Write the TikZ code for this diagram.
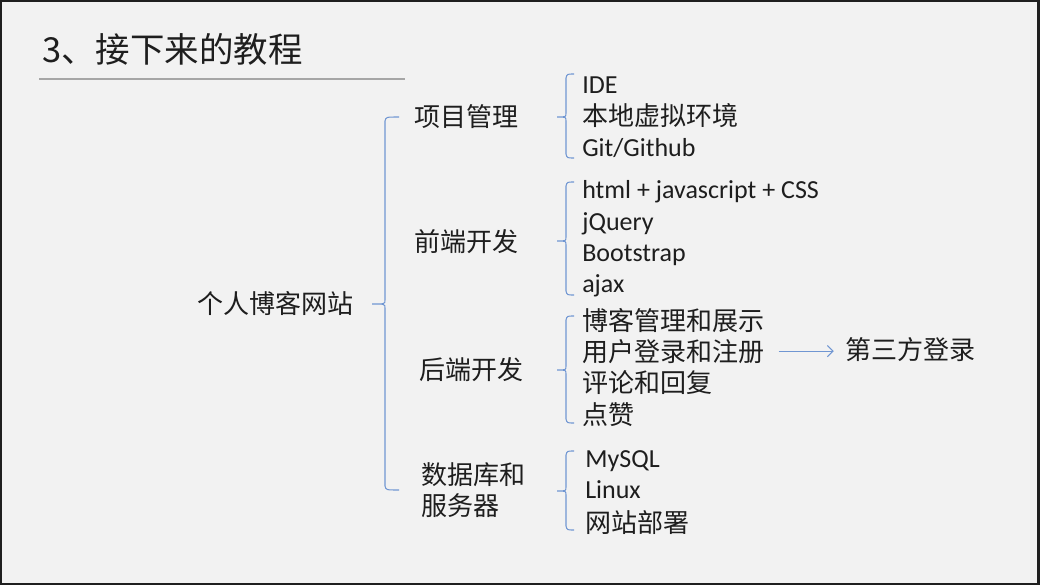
\documentclass[tikz,border=0pt]{standalone}
\usepackage{fontspec}
\setmainfont{Carlito}
\newfontfamily\cjk{Noto Sans CJK SC}
\usetikzlibrary{arrows.meta}
\definecolor{bg}{HTML}{F2F2F2}
\definecolor{brc}{RGB}{112,150,210}
\definecolor{txt}{HTML}{1E1E1E}
\definecolor{rulegray}{HTML}{A6A6A6}
\tikzset{
  bracestyle/.style={draw=brc, line width=0.75pt},
  lbl/.style={anchor=base west, inner sep=0pt, text=txt, font=\fontsize{18.5pt}{22pt}\selectfont},
  ttl/.style={anchor=base west, inner sep=0pt, text=txt, font=\fontsize{24.5pt}{28pt}\selectfont\cjk},
  arr/.style={draw=brc, line width=0.75pt, -{Straight Barb[length=4pt,width=8pt]}}
}
% #1 x of line, #2 x of ends, #3 x of tip, #4 y top, #5 y mid, #6 y bottom
\newcommand\bracepath[6]{%
  \draw[bracestyle] (#2,#4) .. controls (#1+1,#4) .. (#1,#4+4) -- (#1,#5-4)
    .. controls (#1,#5) .. (#3,#5) .. controls (#1,#5) .. (#1,#5+4)
    -- (#1,#6-4) .. controls (#1+1,#6) .. (#2,#6);}
\begin{document}
\begin{tikzpicture}[x=0.025cm, y=-0.025cm]
\useasboundingbox (0,0) rectangle (1040,585);
\fill[black!88] (0,0) rectangle (1040,585);
\fill[bg] (2,2) rectangle (1037,583);

% title
\node[ttl] (title) at (42,62) {3、接下来的教程};
\draw[rulegray, line width=2.1pt] (39,79) -- (405,79);

% root and categories
\node[lbl] (root) at (197,313.5) {\cjk 个人博客网站};
\node[lbl] (c1) at (414,126) {\cjk 项目管理};
\node[lbl] (c2) at (414,251) {\cjk 前端开发};
\node[lbl] (c3) at (419,379) {\cjk 后端开发};
\node[lbl] (c4) at (421,484) {\cjk 数据库和};
\node[lbl] (c4b) at (421,515) {\cjk 服务器};

% items
\node[lbl] (i11) at (582,93) {IDE};
\node[lbl] (i12) at (582,125) {\cjk 本地虚拟环境};
\node[lbl] (i13) at (582,156) {Git/Github};
\node[lbl] (i21) at (582,198) {html + javascript + CSS};
\node[lbl] (i22) at (582,230) {jQuery};
\node[lbl] (i23) at (582,261) {Bootstrap};
\node[lbl] (i24) at (582,292) {ajax};
\node[lbl] (i31) at (582,330) {\cjk 博客管理和展示};
\node[lbl] (i32) at (582,361) {\cjk 用户登录和注册};
\node[lbl] (i33) at (582,392) {\cjk 评论和回复};
\node[lbl] (i34) at (582,424) {\cjk 点赞};
\node[lbl] (i41) at (585,467) {MySQL};
\node[lbl] (i42) at (585,498) {Linux};
\node[lbl] (i43) at (585,532) {\cjk 网站部署};
\node[lbl] (dsf) at (845,359) {\cjk 第三方登录};

% braces
\bracepath{385}{399}{372}{117}{304}{490}
\bracepath{566}{574}{557}{74}{117}{158}
\bracepath{566}{574}{557}{182}{241}{295}
\bracepath{566}{574}{557}{316}{370}{423}
\bracepath{566}{574}{557}{451}{491}{530}

% arrow
\draw[arr, shorten <=10pt, shorten >=8pt] (i32.east) -- (i32.east -| dsf.west);
\end{tikzpicture}
\end{document}
